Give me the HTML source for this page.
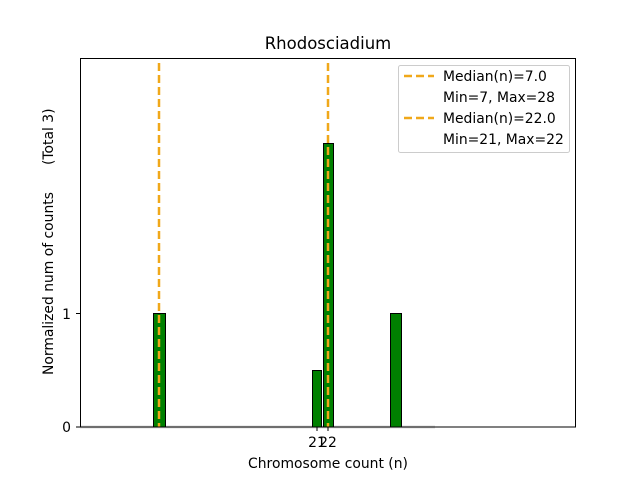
<!DOCTYPE html>
<html><head><style>body{margin:0;background:#fff}svg{display:block}text{font-family:"DejaVu Sans","Liberation Sans",sans-serif;fill:#000}</style></head><body>
<svg width="640" height="480" xmlns="http://www.w3.org/2000/svg">
<rect width="640" height="480" fill="#fff"/>
<text x="328" y="49" font-size="16.5" text-anchor="middle">Rhodosciadium</text>
<line x1="80" y1="427" x2="435" y2="427" stroke="#ddd" stroke-width="3"/>
<g fill="#008000" stroke="#000" stroke-width="1">
<rect x="153.5" y="313.5" width="12" height="113.5"/>
<rect x="312.5" y="370.5" width="9" height="56.5"/>
<rect x="323.5" y="143.5" width="10" height="283.5"/>
<rect x="390.5" y="313.5" width="11" height="113.5"/>
</g>
<g stroke="#f0a81a" stroke-width="2.5" stroke-dasharray="8,4">
<line x1="159" y1="63" x2="159" y2="427"/>
<line x1="328" y1="63" x2="328" y2="427"/>
</g>
<rect x="80.5" y="58.5" width="495" height="368.5" fill="none" stroke="#000" stroke-width="1"/>
<g stroke="#000"><line x1="76" y1="427" x2="80" y2="427"/><line x1="76" y1="313.5" x2="80" y2="313.5"/>
<line x1="317" y1="427" x2="317" y2="431"/><line x1="328" y1="427" x2="328" y2="431"/></g>
<g font-size="13.9"><text x="71" y="432" text-anchor="end">0</text><text x="71" y="319" text-anchor="end">1</text>
<text x="317" y="447" text-anchor="middle">21</text><text x="328" y="447" text-anchor="middle">22</text>
<text x="328" y="468" text-anchor="middle">Chromosome count (n)</text></g>
<g font-size="13.9"><text transform="translate(53,375) rotate(-90)">Normalized num of counts</text>
<text transform="translate(53,165) rotate(-90)">(Total 3)</text></g>
<rect x="398.5" y="65.5" width="171" height="87" rx="2" fill="#fff" stroke="#ccc"/>
<g stroke="#f0a81a" stroke-width="2.5" stroke-dasharray="8,4"><line x1="404" y1="76" x2="434" y2="76"/><line x1="404" y1="118" x2="434" y2="118"/></g>
<g font-size="13.9"><text x="443" y="81">Median(n)=7.0</text><text x="443" y="102">Min=7, Max=28</text>
<text x="443" y="123">Median(n)=22.0</text><text x="443" y="144">Min=21, Max=22</text></g>
</svg></body></html>
